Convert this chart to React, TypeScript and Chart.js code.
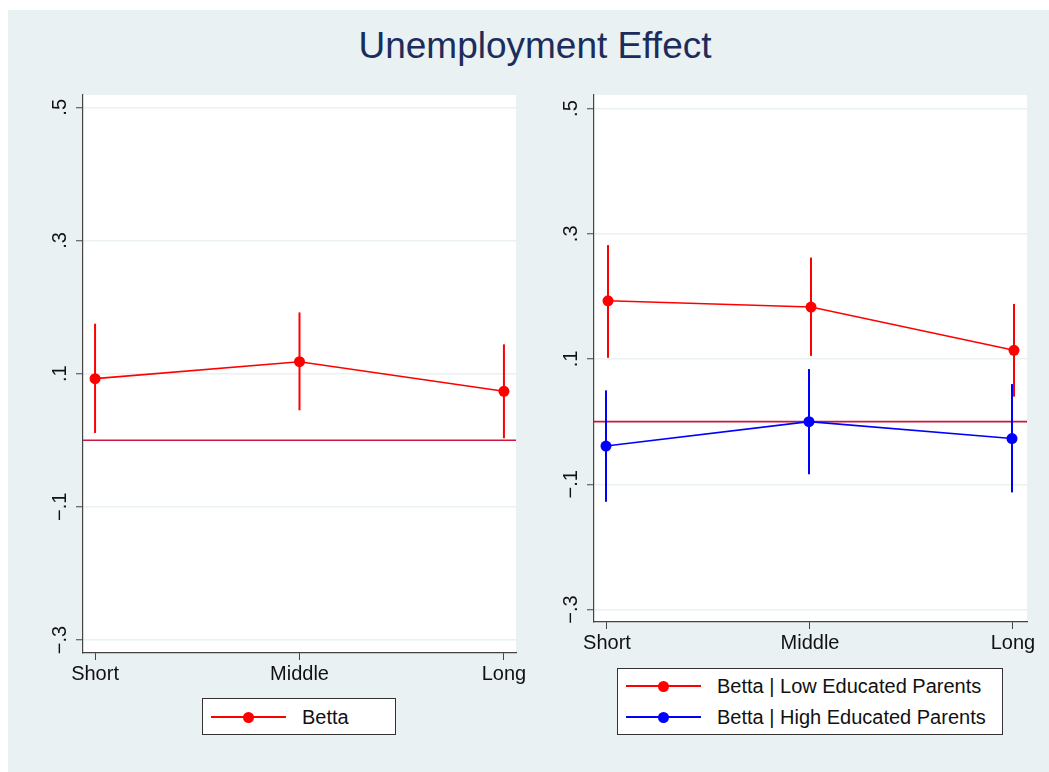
import React, { useEffect, useRef } from "react";
import { Chart, registerables } from "chart.js";
Chart.register(...registerables);

const TITLE = "Unemployment Effect";
const categories = ["Short", "Middle", "Long"];
const yTickValues = [-0.3, -0.1, 0.1, 0.3, 0.5];
const yTickLabels = ["−.3", "−.1", ".1", ".3", ".5"];
const REF_LINE = 0;

// Left panel: Betta
const bettaAll = [0.0925, 0.118, 0.0735];
const bettaAllLo = [0.011, 0.045, 0.003];
const bettaAllHi = [0.175, 0.192, 0.144];

// Right panel: Low / High educated parents
const bettaLow = [0.193, 0.183, 0.114];
const bettaLowLo = [0.102, 0.105, 0.04];
const bettaLowHi = [0.282, 0.262, 0.188];

const bettaHigh = [-0.039, 0.0, -0.027];
const bettaHighLo = [-0.128, -0.084, -0.113];
const bettaHighHi = [0.05, 0.084, 0.06];

const LABEL_ALL = "Betta";
const LABEL_LOW = "Betta | Low Educated Parents";
const LABEL_HIGH = "Betta | High Educated Parents";

const FONT = "'Liberation Sans', Arial, Helvetica, sans-serif";
const RED = "#FF0000";
const BLUE = "#0000FF";
const BG = "#E9F1F3";
const TICK_FONT = 20;

type Series = { est: number[]; lo: number[]; hi: number[]; color: string; offset: number };

const whiteArea = {
  id: "whiteArea",
  beforeDraw(chart: any) {
    const { ctx, chartArea: a } = chart;
    ctx.save();
    ctx.fillStyle = "#FFFFFF";
    ctx.fillRect(a.left, a.top, a.right - a.left, a.bottom - a.top);
    ctx.restore();
  },
};

const refLine = {
  id: "refLine",
  beforeDatasetsDraw(chart: any) {
    const { ctx, chartArea: a } = chart;
    const y = chart.scales.y.getPixelForValue(REF_LINE);
    ctx.save();
    ctx.strokeStyle = "#C8163C";
    ctx.lineWidth = 1.6;
    ctx.beginPath();
    ctx.moveTo(a.left, y);
    ctx.lineTo(a.right, y);
    ctx.stroke();
    ctx.restore();
  },
};

const yLabels = {
  id: "yLabels",
  afterDraw(chart: any) {
    const { ctx, chartArea: a } = chart;
    const ys = chart.scales.y;
    ctx.save();
    ctx.fillStyle = "#111111";
    ctx.font = `${TICK_FONT}px ${FONT}`;
    ctx.textAlign = "center";
    ctx.textBaseline = "alphabetic";
    yTickValues.forEach((v, i) => {
      const py = ys.getPixelForValue(v);
      ctx.save();
      ctx.translate(a.left - 17, py);
      ctx.rotate(-Math.PI / 2);
      ctx.fillText(yTickLabels[i], 0, 0);
      ctx.restore();
    });
    ctx.restore();
  },
};

function buildConfig(
  series: Series[],
  xMin: number,
  xMax: number,
  yMin: number,
  yMax: number,
  padding: { left: number; right: number; top: number; bottom: number }
) {
  const datasets: any[] = [];
  series.forEach((s) => {
    s.est.forEach((_, i) => {
      datasets.push({
        data: [
          { x: i + 1 + s.offset, y: s.lo[i] },
          { x: i + 1 + s.offset, y: s.hi[i] },
        ],
        borderColor: s.color,
        borderWidth: 2,
        pointRadius: 0,
        fill: false,
      });
    });
    datasets.push({
      data: s.est.map((v, i) => ({ x: i + 1 + s.offset, y: v })),
      borderColor: s.color,
      borderWidth: 1.6,
      pointRadius: 5.5,
      pointBackgroundColor: s.color,
      pointBorderColor: s.color,
      pointBorderWidth: 0,
      fill: false,
    });
  });
  return {
    type: "line" as const,
    data: { datasets },
    plugins: [whiteArea, refLine, yLabels],
    options: {
      responsive: false,
      animation: false as const,
      devicePixelRatio: 1,
      events: [],
      layout: { padding },
      plugins: { legend: { display: false }, tooltip: { enabled: false } },
      scales: {
        x: {
          type: "linear" as const,
          min: xMin,
          max: xMax,
          afterBuildTicks: (s: any) => {
            s.ticks = categories.map((_, i) => ({ value: i + 1 }));
          },
          afterFit: (s: any) => {
            s.height = 40;
            s.paddingLeft = 0;
            s.paddingRight = 0;
          },
          grid: {
            drawOnChartArea: false,
            drawTicks: true,
            tickLength: 7,
            tickColor: "#444444",
            tickWidth: 1,
          },
          border: { display: true, color: "#444444", width: 1.2 },
          ticks: {
            autoSkip: false,
            maxRotation: 0,
            minRotation: 0,
            padding: 2.5,
            color: "#111111",
            font: { family: FONT, size: TICK_FONT },
            callback: (v: any) => categories[Math.round(Number(v)) - 1] ?? "",
          },
        },
        y: {
          type: "linear" as const,
          min: yMin,
          max: yMax,
          afterBuildTicks: (s: any) => {
            s.ticks = yTickValues.map((v) => ({ value: v }));
          },
          afterFit: (s: any) => {
            s.width = 10;
          },
          grid: {
            color: "#EAF1F3",
            lineWidth: 1.5,
            drawTicks: true,
            tickLength: 7,
            tickColor: "#444444",
            tickWidth: 1,
          },
          border: { display: true, color: "#444444", width: 1.2 },
          ticks: { display: false },
        },
      },
    },
  };
}

type LegendItem = { label: string; color: string; cy: number };

function Legend(props: { left: number; top: number; width: number; height: number; items: LegendItem[] }) {
  const { left, top, width, height, items } = props;
  return (
    <div
      style={{
        position: "absolute",
        left,
        top,
        width,
        height,
        boxSizing: "border-box",
        background: "#FFFFFF",
        border: "1px solid #333333",
      }}
    >
      {items.map((it, k) => (
        <div key={k} style={{ position: "absolute", left: 0, top: it.cy - 15, height: 30, width: "100%" }}>
          <div style={{ position: "absolute", left: 8, top: 14, width: 75, height: 2, background: it.color }} />
          <div
            style={{
              position: "absolute",
              left: 45 - 5.5,
              top: 15 - 5.5,
              width: 11,
              height: 11,
              borderRadius: "50%",
              background: it.color,
            }}
          />
          <div
            style={{
              position: "absolute",
              left: 99,
              top: 0,
              lineHeight: "30px",
              fontSize: 20,
              fontFamily: FONT,
              color: "#111111",
              whiteSpace: "nowrap",
            }}
          >
            {it.label}
          </div>
        </div>
      ))}
    </div>
  );
}

export default function App() {
  const leftRef = useRef<HTMLCanvasElement>(null);
  const rightRef = useRef<HTMLCanvasElement>(null);

  useEffect(() => {
    const W = 1049;
    const H = 772;
    // left plot area: x 83..516, y 95..653
    const left = new Chart(
      leftRef.current!,
      buildConfig(
        [{ est: bettaAll, lo: bettaAllLo, hi: bettaAllHi, color: RED, offset: 0 }],
        0.941,
        3.059,
        -0.3195,
        0.5185,
        { left: 83 - 10, right: W - 516, top: 95, bottom: H - 653 - 40 }
      ) as any
    );
    // right plot area: x 594..1027, y 95..622
    const right = new Chart(
      rightRef.current!,
      buildConfig(
        [
          { est: bettaLow, lo: bettaLowLo, hi: bettaLowHi, color: RED, offset: 0.005 },
          { est: bettaHigh, lo: bettaHighLo, hi: bettaHighHi, color: BLUE, offset: -0.005 },
        ],
        0.936,
        3.069,
        -0.32,
        0.5217,
        { left: 594 - 10, right: W - 1027, top: 95, bottom: H - 622 - 40 }
      ) as any
    );
    return () => {
      left.destroy();
      right.destroy();
    };
  }, []);

  return (
    <div style={{ position: "fixed", left: 0, top: 0, width: 1049, height: 772, overflow: "hidden" }}>
      <div style={{ position: "absolute", left: 8, top: 10, width: 1041, height: 762, background: BG }} />
      <div
        style={{
          position: "absolute",
          left: 235,
          top: 26.5,
          width: 600,
          textAlign: "center",
          fontFamily: FONT,
          fontSize: 37,
          lineHeight: "37px",
          color: "#1C2C5B",
          whiteSpace: "nowrap",
        }}
      >
        {TITLE}
      </div>
      <canvas ref={leftRef} width={1049} height={772} style={{ position: "absolute", left: 0, top: 0 }} />
      <canvas ref={rightRef} width={1049} height={772} style={{ position: "absolute", left: 0, top: 0 }} />
      <Legend left={202} top={698} width={194} height={37} items={[{ label: LABEL_ALL, color: RED, cy: 18 }]} />
      <Legend
        left={617}
        top={668}
        width={386}
        height={67}
        items={[
          { label: LABEL_LOW, color: RED, cy: 17 },
          { label: LABEL_HIGH, color: BLUE, cy: 48 },
        ]}
      />
    </div>
  );
}
